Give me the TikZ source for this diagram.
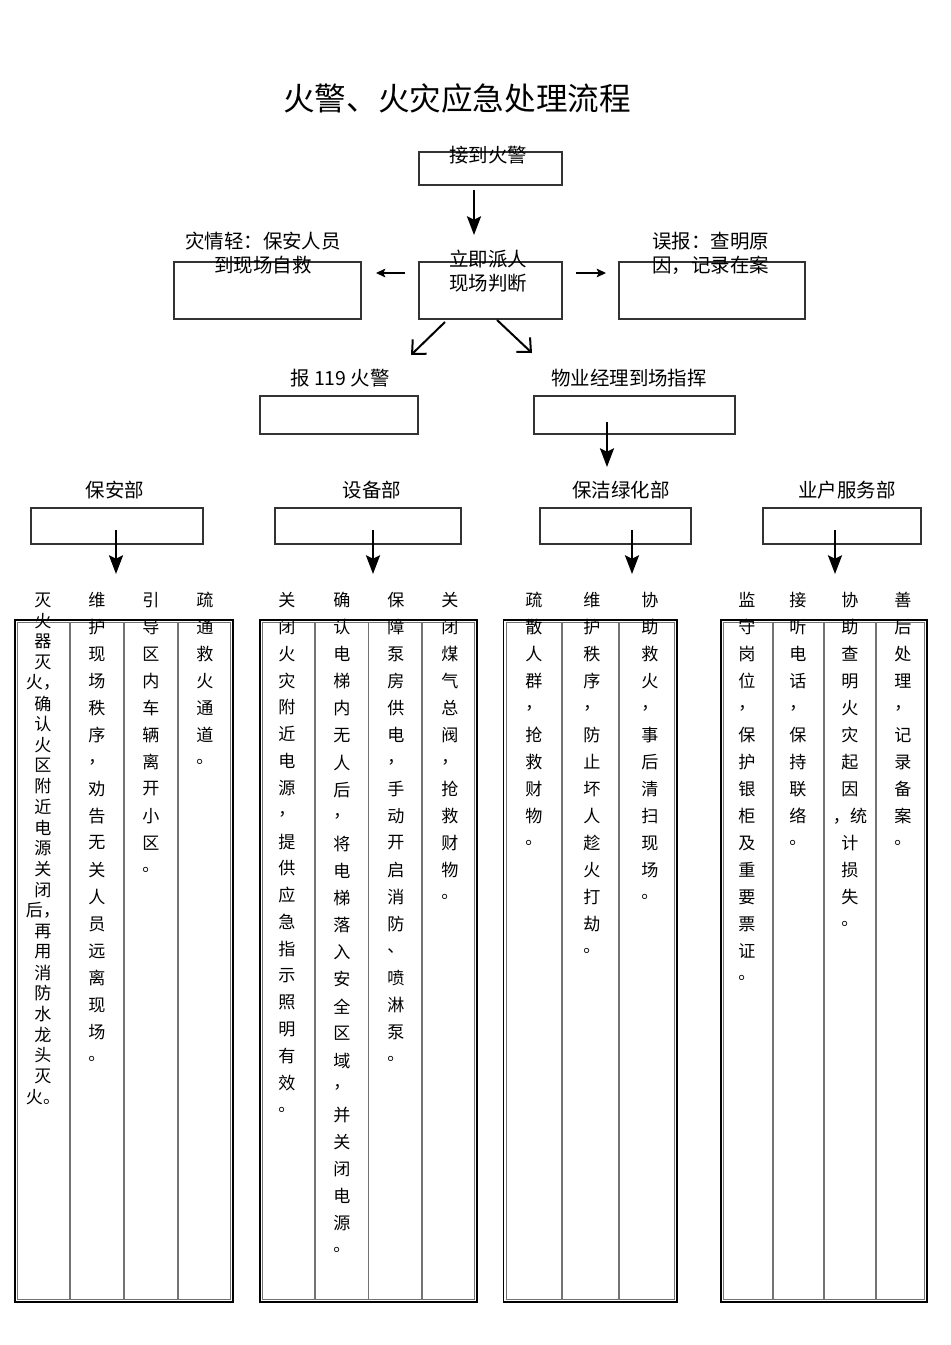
\documentclass[tikz,border=0pt]{standalone}
\usepackage{fontspec}
\setmainfont{Noto Sans CJK SC}
\usetikzlibrary{arrows.meta}
\newcommand\pxl[1]{#1*0.75pt}
\newcommand\vcol[5]{%
  \foreach \c [count=\i from 0] in {#5} \node[cell] (#1\i) at (#2,{#3+\i*#4}) {\c};}
\begin{document}
\begin{tikzpicture}[x=0.75pt,y=-0.75pt,
  box/.style={draw=black!80, line width=0.8pt, rectangle, inner sep=0pt},
  lbl/.style={inner sep=0pt, font=\fontsize{14.6pt}{18pt}\selectfont},
  cell/.style={inner sep=0pt, font=\fontsize{12.8pt}{15pt}\selectfont},
  bigarrow/.style={line width=1.8pt, -{Stealth[length=14pt,width=10.5pt,inset=2.5pt]}},
  smallarrow/.style={line width=1.1pt, -{Stealth[length=7pt,width=6.5pt,inset=1.5pt]}},
  diagarrow/.style={line width=1.5pt, -{Straight Barb[length=8pt,width=15pt,line width=1.5pt]}},
  outer/.style={draw=black, line width=1.3pt},
  inner/.style={draw=black!55, line width=0.7pt},
  divider/.style={draw=black!55, line width=1.2pt}]
\useasboundingbox (0,0) rectangle (950,1345);
\fill[white] (0,0) rectangle (950,1345);

% title
\node[inner sep=0pt, font=\fontsize{23.7pt}{28pt}\selectfont] (title) at (457,98) {火警、火灾应急处理流程};

% boxes
\node[box, minimum width=\pxl{143}, minimum height=\pxl{33}] (n1) at (490.5,168.5) {};
\node[box, minimum width=\pxl{143}, minimum height=\pxl{57}] (n2) at (490.5,290.5) {};
\node[box, minimum width=\pxl{187}, minimum height=\pxl{57}] (nL) at (267.5,290.5) {};
\node[box, minimum width=\pxl{186}, minimum height=\pxl{57}] (nR) at (712,290.5) {};
\node[box, minimum width=\pxl{158}, minimum height=\pxl{38}] (n119) at (339,415) {};
\node[box, minimum width=\pxl{201}, minimum height=\pxl{38}] (nM) at (634.5,415) {};
\node[box, minimum width=\pxl{172}, minimum height=\pxl{36}] (d1) at (117,526) {};
\node[box, minimum width=\pxl{186}, minimum height=\pxl{36}] (d2) at (368,526) {};
\node[box, minimum width=\pxl{151}, minimum height=\pxl{36}] (d3) at (615.5,526) {};
\node[box, minimum width=\pxl{158}, minimum height=\pxl{36}] (d4) at (842,526) {};

% labels
\node[lbl] (t1) at (488,155) {接到火警};
\node[lbl, align=center] (t2) at (488,271.5) {立即派人\\现场判断};
\node[lbl, align=center] (tL) at (263,253) {灾情轻：保安人员\\到现场自救};
\node[lbl, align=left, anchor=west] (tR) at (652,253) {误报：查明原\\因，记录在案};
\node[lbl] (t119) at (340,378) {报~119~火警};
\node[lbl] (tM) at (629,378) {物业经理到场指挥};
\node[lbl] (td1) at (115,490) {保安部};
\node[lbl] (td2) at (372,490) {设备部};
\node[lbl] (td3) at (621,490) {保洁绿化部};
\node[lbl] (td4) at (847,490) {业户服务部};

% arrows
\coordinate (a1e) at (474,235);
\draw[bigarrow] (474,190) -- (a1e);
\coordinate (aLe) at (376,273);
\coordinate (aRe) at (606,273);
\draw[smallarrow] (405,273) -- (aLe);
\draw[smallarrow] (576,273) -- (aRe);
\coordinate (dLe) at (411,355);
\coordinate (dRe) at (532,353);
\draw[diagarrow] (445,322) -- (dLe);
\draw[diagarrow] (497,320) -- (dRe);
\coordinate (mE) at (607,467);
\draw[bigarrow] (607,422) -- (mE);
\foreach \x/\n in {116/1,373/2,632/3,835/4}{
  \coordinate (e\n) at (\x,574);
  \draw[bigarrow] (\x,530) -- (e\n);
}

% tables
\draw[outer] (15,620) rectangle (233,1302);
\draw[inner] (17.5,622.5) rectangle (230.5,1299.5);
\foreach \x in {70,124,178} \draw[divider] (\x,622.5) -- (\x,1299.5);

\draw[outer] (260,620) rectangle (477,1302);
\draw[inner] (262.5,622.5) rectangle (474.5,1299.5);
\foreach \x in {315,368.5,422} \draw[divider] (\x,622.5) -- (\x,1299.5);

\draw[outer] (503.5,620) rectangle (677,1302);
\draw[inner] (506,622.5) rectangle (674.5,1299.5);
\foreach \x in {562,619} \draw[divider] (\x,622.5) -- (\x,1299.5);

\draw[outer] (721,620) rectangle (927,1302);
\draw[inner] (723.5,622.5) rectangle (924.5,1299.5);
\foreach \x in {773,824,876} \draw[divider] (\x,622.5) -- (\x,1299.5);

% column texts
\vcol{aa}{43}{600}{20.7}{灭,火,器,灭,火，,确,认,火,区,附,近,电,源,关,闭,后，,再,用,消,防,水,龙,头,灭,火。}
\vcol{ab}{97}{600}{27}{维,护,现,场,秩,序,，,劝,告,无,关,人,员,远,离,现,场,。}
\vcol{ac}{151}{600}{27}{引,导,区,内,车,辆,离,开,小,区,。}
\vcol{ad}{205}{600}{27}{疏,通,救,火,通,道,。}

\vcol{ba}{287}{600}{26.85}{关,闭,火,灾,附,近,电,源,，,提,供,应,急,指,示,照,明,有,效,。}
\vcol{bb}{342}{600}{27.1}{确,认,电,梯,内,无,人,后,，,将,电,梯,落,入,安,全,区,域,，,并,关,闭,电,源,。}
\vcol{bc}{396}{600}{27}{保,障,泵,房,供,电,，,手,动,开,启,消,防,、,喷,淋,泵,。}
\vcol{bd}{450}{600}{27}{关,闭,煤,气,总,阀,，,抢,救,财,物,。}

\vcol{ca}{534}{600}{27}{疏,散,人,群,，,抢,救,财,物,。}
\vcol{cb}{592}{600}{27}{维,护,秩,序,，,防,止,坏,人,趁,火,打,劫,。}
\vcol{cc}{650}{600}{27}{协,助,救,火,，,事,后,清,扫,现,场,。}

\vcol{da}{747}{600}{27}{监,守,岗,位,，,保,护,银,柜,及,重,要,票,证,。}
\vcol{db}{798}{600}{27}{接,听,电,话,，,保,持,联,络,。}
\vcol{dc}{850}{600}{27}{协,助,查,明,火,灾,起,因,，统,计,损,失,。}
\vcol{dd}{903}{600}{27}{善,后,处,理,，,记,录,备,案,。}
\end{tikzpicture}
\end{document}
